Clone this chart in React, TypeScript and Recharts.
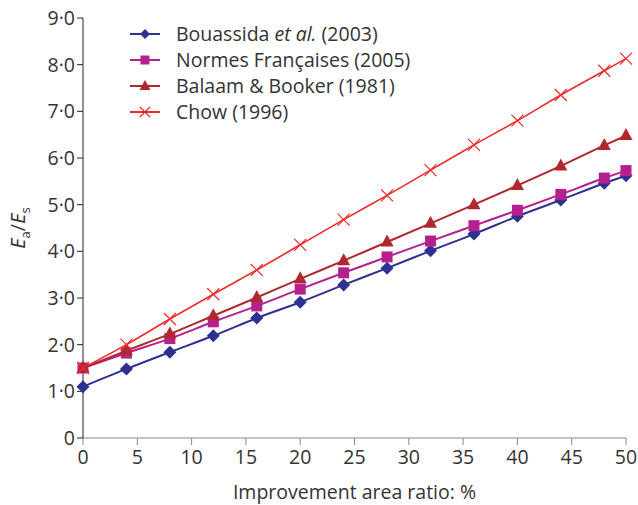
import React from 'react';
import { LineChart, Line, XAxis, YAxis } from 'recharts';

const xValues = [0, 4, 8, 12, 16, 20, 24, 28, 32, 36, 40, 44, 48, 50];
const bouassida = [1.1, 1.48, 1.84, 2.19, 2.57, 2.91, 3.28, 3.64, 4.01, 4.37, 4.75, 5.1, 5.46, 5.62];
const normes = [1.5, 1.82, 2.13, 2.49, 2.83, 3.19, 3.54, 3.88, 4.22, 4.55, 4.88, 5.22, 5.57, 5.73];
const balaam = [1.5, 1.87, 2.23, 2.62, 3.01, 3.41, 3.8, 4.2, 4.6, 5.0, 5.41, 5.83, 6.27, 6.48];
const chow = [1.5, 2.0, 2.55, 3.08, 3.6, 4.14, 4.68, 5.2, 5.74, 6.28, 6.8, 7.35, 7.87, 8.13];
const xTicks = [0, 5, 10, 15, 20, 25, 30, 35, 40, 45, 50];
const yTicks = [0, 1, 2, 3, 4, 5, 6, 7, 8, 9];

const COLORS = { b: '#2e3192', n: '#b5208e', a: '#b0282e', c: '#ee2a2a' };
const FONT = '"Open Sans", "Noto Sans", sans-serif';
const FS = 19.5;

const data = xValues.map((x, i) => ({ x, b: bouassida[i], n: normes[i], a: balaam[i], c: chow[i] }));

const Diamond = (props: any) => {
  const { cx, cy } = props;
  if (cx == null || cy == null) return null;
  const r = 6.5;
  return <path d={`M${cx},${cy - r}L${cx + r},${cy}L${cx},${cy + r}L${cx - r},${cy}Z`} fill={COLORS.b} />;
};
const Square = (props: any) => {
  const { cx, cy } = props;
  if (cx == null || cy == null) return null;
  const r = 5.5;
  return <rect x={cx - r} y={cy - r} width={2 * r} height={2 * r} fill={COLORS.n} />;
};
const Triangle = (props: any) => {
  const { cx, cy } = props;
  if (cx == null || cy == null) return null;
  return <path d={`M${cx},${cy - 7.5}L${cx + 6.5},${cy + 4.5}L${cx - 6.5},${cy + 4.5}Z`} fill={COLORS.a} />;
};
const Cross = (props: any) => {
  const { cx, cy } = props;
  if (cx == null || cy == null) return null;
  const r = 6;
  return (
    <path d={`M${cx - r},${cy - r}L${cx + r},${cy + r}M${cx - r},${cy + r}L${cx + r},${cy - r}`} stroke={COLORS.c} strokeWidth={1.2} fill="none" />
  );
};

const legendItems = [
  { key: 'b', color: COLORS.b, marker: 'diamond', label: <>Bouassida <i>et al.</i> (2003)</> },
  { key: 'n', color: COLORS.n, marker: 'square', label: <>Normes Françaises (2005)</> },
  { key: 'a', color: COLORS.a, marker: 'triangle', label: <>Balaam &amp; Booker (1981)</> },
  { key: 'c', color: COLORS.c, marker: 'cross', label: <>Chow (1996)</> },
];

const LegendIcon = ({ color, marker }: { color: string; marker: string }) => (
  <svg width={30} height={14} style={{ marginRight: 16, flex: 'none' }}>
    <line x1={0} y1={7} x2={30} y2={7} stroke={color} strokeWidth={2} />
    {marker === 'diamond' && <path d="M15,2L20,7L15,12L10,7Z" fill={color} />}
    {marker === 'square' && <rect x={10.5} y={2.5} width={9} height={9} fill={color} />}
    {marker === 'triangle' && <path d="M15,1L20.5,11L9.5,11Z" fill={color} />}
    {marker === 'cross' && <path d="M10,2L20,12M10,12L20,2" stroke={color} strokeWidth={1.2} />}
  </svg>
);

const LegendBox = () => (
  <div style={{ position: 'absolute', left: 130, top: 21, fontFamily: FONT, fontSize: FS, color: '#333', lineHeight: '26px' }}>
    {legendItems.map((it) => (
      <div key={it.key} style={{ display: 'flex', alignItems: 'center', height: 26, whiteSpace: 'nowrap' }}>
        <LegendIcon color={it.color} marker={it.marker} />
        <span>{it.label}</span>
      </div>
    ))}
  </div>
);

const YLabel = () => (
  <text transform="translate(25,228) rotate(-90)" textAnchor="middle" fontFamily={FONT} fontSize={20} fill="#333">
    <tspan fontStyle="italic">E</tspan>
    <tspan fontSize={13} dy={5}>a</tspan>
    <tspan dy={-5}>/</tspan>
    <tspan fontStyle="italic">E</tspan>
    <tspan fontSize={13} dy={5}>s</tspan>
  </text>
);

export default function App() {
  return (
    <div style={{ position: 'absolute', left: 0, top: 0, width: 638, height: 505, background: '#fff' }}>
      <LineChart width={638} height={505} data={data} margin={{ top: 18, right: 12, bottom: 4, left: 0 }}>
        <XAxis
          dataKey="x"
          type="number"
          domain={[0, 50]}
          ticks={xTicks}
          interval={0}
          height={63}
          stroke="#888"
          tickLine={{ stroke: '#888' }}
          tickSize={7}
          tickMargin={5}
          tick={{ fill: '#333', fontSize: FS, fontFamily: FONT }}
          label={{ value: 'Improvement area ratio: %', position: 'insideBottom', offset: 2, fill: '#333', fontSize: FS, fontFamily: FONT }}
        />
        <YAxis
          type="number"
          domain={[0, 9]}
          ticks={yTicks}
          interval={0}
          width={83}
          stroke="#222"
          tickSize={6}
          tick={{ fill: '#333', fontSize: FS, fontFamily: FONT }}
          tickFormatter={(v: number) => (v === 0 ? '0' : `${v}·0`)}
          label={<YLabel />}
        />
        <Line type="monotone" dataKey="b" stroke={COLORS.b} strokeWidth={2} dot={<Diamond />} activeDot={false} isAnimationActive={false} />
        <Line type="monotone" dataKey="n" stroke={COLORS.n} strokeWidth={2} dot={<Square />} activeDot={false} isAnimationActive={false} />
        <Line type="monotone" dataKey="a" stroke={COLORS.a} strokeWidth={2} dot={<Triangle />} activeDot={false} isAnimationActive={false} />
        <Line type="monotone" dataKey="c" stroke={COLORS.c} strokeWidth={1.6} dot={<Cross />} activeDot={false} isAnimationActive={false} />
      </LineChart>
      <LegendBox />
    </div>
  );
}
